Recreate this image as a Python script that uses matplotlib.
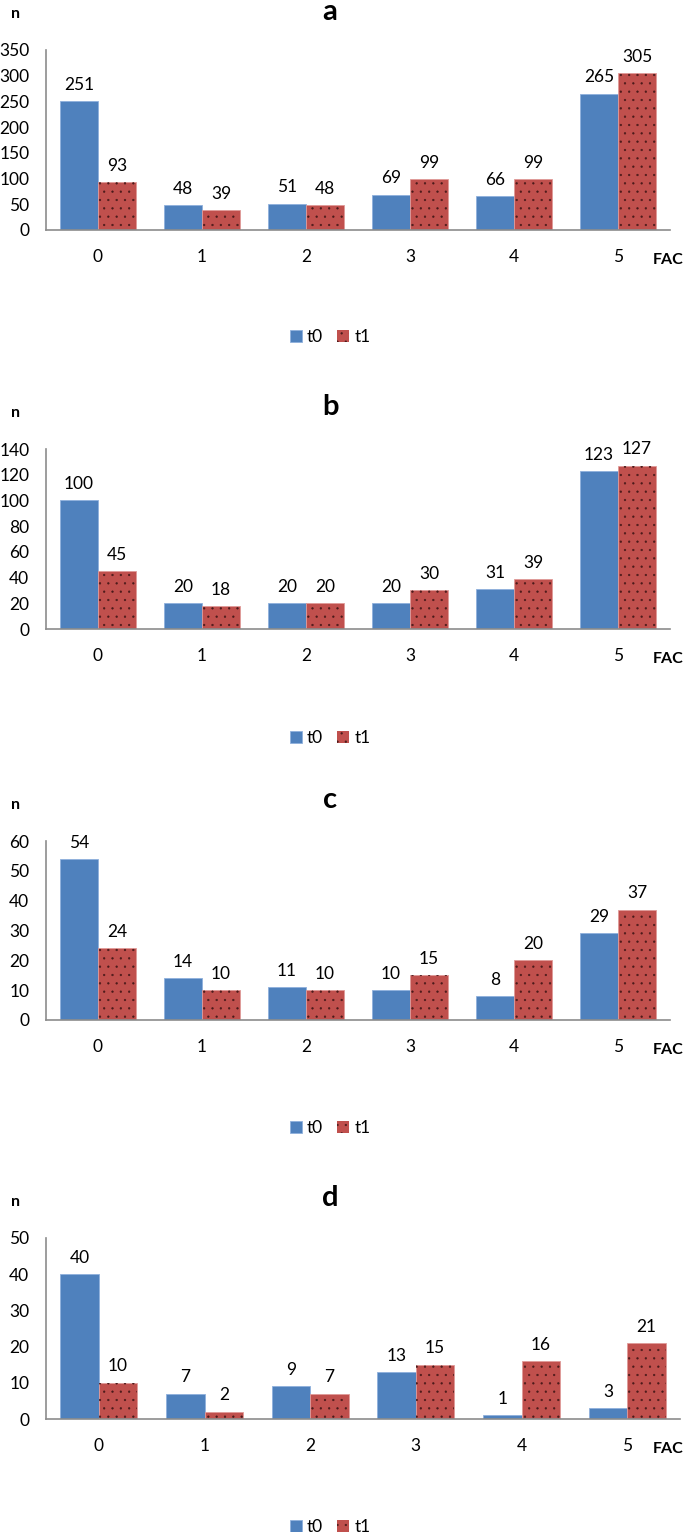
import numpy as np
import matplotlib.pyplot as plt
from matplotlib.patches import Patch

plt.rcParams['font.family'] = ['Lato', 'DejaVu Sans']
plt.rcParams['hatch.linewidth'] = 0.4

fac = ['0', '1', '2', '3', '4', '5']
panels = ['a', 'b', 'c', 'd']

a_t0 = [251, 48, 51, 69, 66, 265]
a_t1 = [93, 39, 48, 99, 99, 305]
b_t0 = [100, 20, 20, 20, 31, 123]
b_t1 = [45, 18, 20, 30, 39, 127]
c_t0 = [54, 14, 11, 10, 8, 29]
c_t1 = [24, 10, 10, 15, 20, 37]
d_t0 = [40, 7, 9, 13, 1, 3]
d_t1 = [10, 2, 7, 15, 16, 21]

t0_all = [a_t0, b_t0, c_t0, d_t0]
t1_all = [a_t1, b_t1, c_t1, d_t1]
ymax = [350, 140, 60, 50]
ystep = [50, 20, 10, 10]

W, H = 685, 1532
fig = plt.figure(figsize=(W / 100, H / 100), dpi=100)

# pixel boxes: left, right, top, bottom
boxes = [(46, 670, 50, 230), (46, 670, 449, 629), (46, 670, 841, 1020), (46, 680, 1238, 1419)]
legend_y = [337, 738, 1128, 1527]
title_y = [12, 407, 800, 1198]

blue = '#4f81bd'
red = '#c0504d'
dots = '#4a1a1a'
w = 0.365
x = np.arange(len(fac))

for i in range(4):
    l, r, t, b = boxes[i]
    ax = fig.add_axes([l / W, 1 - b / H, (r - l) / W, (b - t) / H])
    b0 = ax.bar(x - w / 2, t0_all[i], w, color=blue, edgecolor='#8fb0dc', linewidth=0.6)
    b1 = ax.bar(x + w / 2, t1_all[i], w, color=red, edgecolor='#e09a98', linewidth=0.6)
    # dark dotted texture on t1
    ax.bar(x + w / 2, t1_all[i], w, color='none', edgecolor=dots, linewidth=0, hatch='..')
    for bars, vals in [(b0, t0_all[i]), (b1, t1_all[i])]:
        for bar, v in zip(bars, vals):
            ax.annotate(str(v), (bar.get_x() + bar.get_width() / 2, v),
                        xytext=(0, 6), textcoords='offset points',
                        ha='center', va='bottom', fontsize=12.5)
    ax.set_xlim(-0.5, 5.5)
    ax.set_ylim(0, ymax[i])
    ax.set_yticks(np.arange(0, ymax[i] + 1, ystep[i]))
    ax.set_xticks(x)
    ax.set_xticklabels(fac)
    ax.tick_params(length=0, labelsize=12.5)
    ax.tick_params(axis='y', pad=12)
    ax.tick_params(axis='x', pad=14)
    for s in ['top', 'right']:
        ax.spines[s].set_visible(False)
    for s in ['left', 'bottom']:
        ax.spines[s].set_color('#8c8c8c')
        ax.spines[s].set_linewidth(1.2)
        ax.spines[s].set_zorder(3)
    ax.text(668 / W, (H - b - 30) / H, 'FAC', transform=fig.transFigure,
            ha='center', va='center', fontsize=11.5, fontweight='bold')
    ax.text(15 / W, (H - t + 36) / H, 'n', transform=fig.transFigure,
            ha='center', va='center', fontsize=11.5, fontweight='bold')
    fig.text(330 / W, 1 - title_y[i] / H, panels[i], ha='center', va='center',
             fontsize=21, fontweight='bold')
    handles = [Patch(facecolor=blue, edgecolor='#8fb0dc', linewidth=0.6),
               Patch(facecolor=red, edgecolor=dots, linewidth=0, hatch='..')]
    fig.legend(handles=handles, labels=['t0', 't1'], loc='center',
               bbox_to_anchor=(330 / W, 1 - legend_y[i] / H), ncol=2, frameon=False,
               fontsize=12.5, handlelength=0.7, handleheight=0.7, handletextpad=0.3,
               columnspacing=0.8)

fig.savefig('out.png', dpi=100)
